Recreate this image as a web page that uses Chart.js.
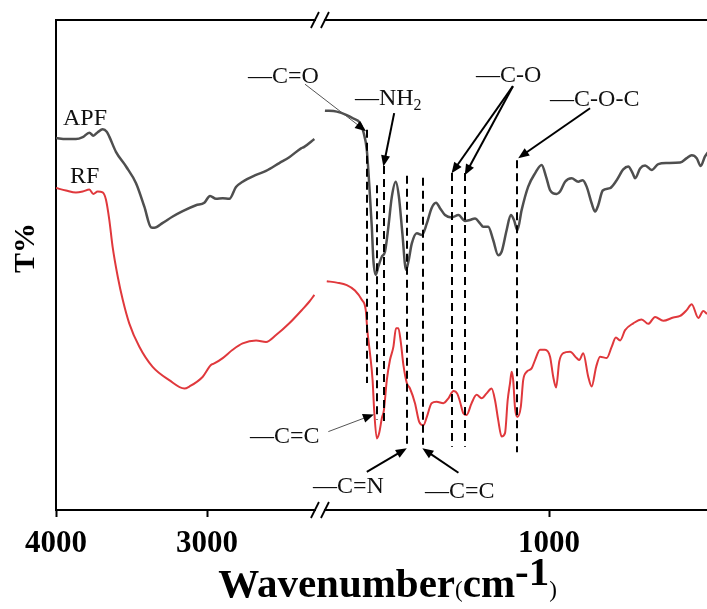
<!DOCTYPE html>
<html><head><meta charset="utf-8">
<script src="https://cdn.jsdelivr.net/npm/chart.js@4/dist/chart.umd.min.js"></script>
<style>html,body{margin:0;padding:0;background:#fff}canvas{display:block}</style>
</head><body>
<canvas id="c" width="707" height="609"></canvas>
<script>
// ---- data (wavenumber in cm-1, transmittance in arbitrary % units) ----
const tickWavenumbers = [4000, 3000, 1000];
const tickLabels = ['4000', '3000', '1000'];

const apfLeftWn = [4000,3934,3868,3823,3779,3753,3724,3691,3664,3647,3603,3536,3470,3415,3371,3349,3293,3227,3161,3073,3018,2980,2940,2896,2852,2808,2764,2675,2609,2521,2455,2377,2356,2289];
const apfLeftT  = [75.9,75.7,75.7,76.1,77.0,76.4,77.1,77.7,77.2,76.2,73.1,70.1,66.7,61.9,57.7,57.6,58.6,59.9,61.0,62.2,62.7,64.1,63.5,63.6,63.5,65.9,67.0,68.4,69.2,70.8,72.0,73.8,74.1,75.7];

const apfRightWn = [1851,1806,1768,1743,1718,1705,1692,1683,1673,1667,1658,1648,1635,1623,1610,1597,1582,1570,1557,1543,1534,1521,1502,1483,1464,1446,1429,1414,1395,1370,1344,1319,1300,1281,1262,1250,1231,1212,1193,1180,1161,1145,1133,1120,1104,1079,1053,1028,1011,996,971,958,939,914,889,872,857,838,825,813,796,768,743,718,699,682,673,654,635,610,585,553,502,477,458,439,424,408,395];
const apfRightT  = [81.5,81.3,80.6,79.9,79.0,77.2,73.5,66.7,57.8,51.0,48.0,49.7,51.7,52.7,57.8,63.9,67.0,63.9,56.5,49.0,50.7,54.4,56.5,56.1,58.5,61.6,62.7,61.6,60.2,59.7,60.2,59.0,59.2,59.5,58.5,57.8,57.8,55.1,52.0,52.7,57.1,60.2,59.2,57.1,61.2,66.0,68.7,70.4,68.0,65.3,64.5,65.0,67.0,67.7,67.0,67.3,66.0,62.6,60.9,62.2,65.2,65.7,67.3,69.5,70.1,68.7,67.7,69.7,70.3,69.4,70.6,70.8,70.9,71.8,72.4,71.8,70.2,72.1,73.1];

const rfLeftWn = [4000,3934,3868,3823,3779,3753,3724,3691,3669,3647,3625,3591,3558,3515,3448,3360,3250,3150,3117,3028,2974,2952,2896,2830,2764,2675,2609,2543,2455,2366,2323,2289];
const rfLeftT  = [65.7,65.2,64.8,65.0,65.4,64.5,65.0,64.8,63.3,59.2,53.7,47.6,42.9,38.1,33.3,29.2,26.5,24.8,25.2,27.2,29.6,29.9,31.0,32.7,34.0,34.6,34.3,35.7,38.1,41.0,42.5,43.9];

const rfRightWn = [1844,1806,1768,1737,1711,1696,1690,1680,1670,1664,1654,1645,1635,1627,1616,1604,1591,1581,1572,1563,1553,1540,1528,1509,1493,1477,1464,1446,1427,1401,1382,1363,1348,1338,1325,1313,1294,1275,1256,1237,1218,1205,1193,1180,1167,1157,1148,1142,1136,1129,1120,1107,1098,1085,1066,1053,1034,1015,996,984,973,961,946,920,895,885,870,851,838,821,806,781,762,746,730,711,680,648,623,597,566,528,502,477,458,433,414,400];
const rfRightT  = [46.7,46.4,45.9,44.8,42.9,40.8,36.7,32.0,26.5,20.4,14.6,15.7,18.7,20.4,26.5,30.6,33.3,37.1,37.1,34.3,29.6,25.9,24.8,21.8,18.0,17.3,19.0,21.8,22.1,21.8,22.8,24.3,23.7,22.1,19.7,19.4,21.8,23.5,22.8,23.8,24.8,22.4,18.4,15.0,15.7,22.4,25.9,28.2,26.5,20.8,19.0,21.1,26.5,28.2,28.9,30.6,32.7,32.7,31.3,27.2,25.0,30.3,32.0,32.3,31.0,30.6,32.0,27.2,25.2,29.2,31.3,31.0,33.3,35.2,34.6,36.7,38.1,38.9,38.0,39.4,38.6,39.3,39.6,40.8,42.0,39.2,40.6,40.0];

// peak markers (wavenumber, top T, bottom T)
const peakWn   = [1690, 1655, 1625, 1540, 1480, 1370, 1320, 1120];
const peakTop  = [77.6, 66.3, 70.2, 68.2, 67.8, 68.8, 68.8, 71.4];
const peakBot  = [25.9, 18.4, 17.8, 13.3, 13.3, 12.9, 12.9, 11.8];

// ---- broken-axis mapping: wavenumber -> axis units ----
const AXIS_MAX = 651;
function toU(w) { return w >= 2000 ? (4000 - w) * 0.151 : 493 + (1000 - w) * 0.2633; }
const BREAK_WN = 2252;

function zip(wn, t) { const n = Math.min(wn.length, t.length); const a = []; for (let i = 0; i < n; i++) a.push({x: toU(wn[i]), y: t[i]}); return a; }

const SERIF = '"Liberation Serif", "Times New Roman", serif';
const GRAY = '#4f4f4f', RED = '#e0383c';

// annotation texts (anchor in data coords, left/baseline)
const labels = [
  {segs:[{t:'—C=O'}], w:2728, t:87.1},
  {segs:[{t:'—NH'},{t:'2', size:16, dy:5}], w:1737, t:82.7},
  {segs:[{t:'—C-O'}], w:1277, t:87.3},
  {segs:[{t:'—C-O-C'}], w:996, t:82.4},
  {segs:[{t:'—C=C'}], w:2715, t:13.7},
  {segs:[{t:'—C=N'}], w:2298, t:3.5},
  {segs:[{t:'—C=C'}], w:1471, t:2.4},
  {segs:[{t:'APF'}], w:3954, t:78.6},
  {segs:[{t:'RF'}], w:3907, t:66.7}
];
const arrows = [
  {from:[2351,86.9], to:[1695,77.3], thin:true},
  {from:[1588,81.0], to:[1629,70.1]},
  {from:[1137,86.5], to:[1370,68.7]},
  {from:[1137,86.5], to:[1320,68.3]},
  {from:[844,82.0],  to:[1117,71.8]},
  {from:[1838,16.0], to:[1665,19.5], thin:true},
  {from:[1692,7.8],  to:[1540,12.6]},
  {from:[1344,7.6],  to:[1481,12.6]}
];

function drawSegs(ctx, segs, x, y, baseSize) {
  for (const s of segs) {
    ctx.font = (s.bold ? 'bold ' : '') + (s.size || baseSize) + 'px ' + SERIF;
    ctx.fillText(s.t, x, y + (s.dy || 0));
    x += ctx.measureText(s.t).width;
  }
}
function segsWidth(ctx, segs, baseSize) {
  let w = 0;
  for (const s of segs) { ctx.font = (s.bold ? 'bold ' : '') + (s.size || baseSize) + 'px ' + SERIF; w += ctx.measureText(s.t).width; }
  return w;
}

const decor = {
  id: 'decor',
  beforeDraw(chart) {
    const ctx = chart.ctx; ctx.save(); ctx.fillStyle = '#fff'; ctx.fillRect(0, 0, chart.width, chart.height); ctx.restore();
  },
  afterDraw(chart) {
    const ctx = chart.ctx, xs = chart.scales.x, ys = chart.scales.y, a = chart.chartArea;
    const X = w => xs.getPixelForValue(toU(w)), Y = t => ys.getPixelForValue(t);
    ctx.save();
    // top frame
    ctx.strokeStyle = '#000'; ctx.lineWidth = 2;
    ctx.beginPath(); ctx.moveTo(a.left - 1, a.top); ctx.lineTo(a.right, a.top); ctx.stroke();
    // axis breaks
    const bx = X(BREAK_WN);
    for (const by of [a.top, a.bottom]) {
      ctx.fillStyle = '#fff'; ctx.fillRect(bx - 4, by - 2, 8, 4);
      ctx.strokeStyle = '#000'; ctx.lineWidth = 1.8;
      ctx.beginPath();
      ctx.moveTo(bx - 9, by + 8); ctx.lineTo(bx - 1, by - 8);
      ctx.moveTo(bx + 1, by + 8); ctx.lineTo(bx + 9, by - 8);
      ctx.stroke();
    }
    // dashed peak lines
    ctx.strokeStyle = '#000'; ctx.lineWidth = 2; ctx.setLineDash([8, 5]);
    for (let i = 0; i < peakWn.length; i++) {
      const x = Math.round(X(peakWn[i]));
      ctx.beginPath(); ctx.moveTo(x, Y(peakTop[i])); ctx.lineTo(x, Y(peakBot[i])); ctx.stroke();
    }
    ctx.setLineDash([]);
    // arrows
    for (const ar of arrows) {
      const x1 = X(ar.from[0]), y1 = Y(ar.from[1]), x2 = X(ar.to[0]), y2 = Y(ar.to[1]);
      const ang = Math.atan2(y2 - y1, x2 - x1), L = 11, H = 4.5;
      ctx.strokeStyle = ar.thin ? '#555' : '#000'; ctx.lineWidth = ar.thin ? 1 : 2;
      ctx.beginPath(); ctx.moveTo(x1, y1); ctx.lineTo(x2 - Math.cos(ang) * (L - 2), y2 - Math.sin(ang) * (L - 2)); ctx.stroke();
      ctx.fillStyle = '#000';
      ctx.beginPath();
      ctx.moveTo(x2, y2);
      ctx.lineTo(x2 - L * Math.cos(ang) + H * Math.sin(ang), y2 - L * Math.sin(ang) - H * Math.cos(ang));
      ctx.lineTo(x2 - L * Math.cos(ang) - H * Math.sin(ang), y2 - L * Math.sin(ang) + H * Math.cos(ang));
      ctx.closePath(); ctx.fill();
    }
    // labels
    ctx.fillStyle = '#111'; ctx.textBaseline = 'alphabetic'; ctx.textAlign = 'left';
    for (const lb of labels) drawSegs(ctx, lb.segs, X(lb.w), Y(lb.t), 24);
    // x title
    const tsegs = [
      {t:'Wavenumber', bold:true, size:41},
      {t:'(', size:23},
      {t:'cm', bold:true, size:41},
      {t:'-1', bold:true, size:41, dy:-12},
      {t:')', size:23}
    ];
    ctx.fillStyle = '#000';
    const tw = segsWidth(ctx, tsegs, 41);
    drawSegs(ctx, tsegs, (a.left + a.right) / 2 + 6 - tw / 2, a.bottom + 87, 41);
    // y title
    ctx.save();
    ctx.translate(a.left - 30, (a.top + a.bottom) / 2 - 17);
    ctx.rotate(-Math.PI / 2);
    ctx.textAlign = 'center'; ctx.textBaseline = 'middle';
    ctx.font = 'bold 30px ' + SERIF;
    ctx.fillText('T%', 0, 0);
    ctx.restore();
    ctx.restore();
  }
};

const lineStyle = (color, width) => ({borderColor: color, borderWidth: width, pointRadius: 0, fill: false, cubicInterpolationMode: 'monotone'});

new Chart(document.getElementById('c'), {
  type: 'line',
  data: {
    datasets: [
      Object.assign({label: 'APF', data: zip(apfLeftWn, apfLeftT)}, lineStyle(GRAY, 2.5)),
      Object.assign({label: 'APF', data: zip(apfRightWn, apfRightT)}, lineStyle(GRAY, 2.5)),
      Object.assign({label: 'RF', data: zip(rfLeftWn, rfLeftT)}, lineStyle(RED, 2)),
      Object.assign({label: 'RF', data: zip(rfRightWn, rfRightT)}, lineStyle(RED, 2))
    ]
  },
  options: {
    responsive: false, animation: false, devicePixelRatio: 1,
    layout: {padding: {top: 20, left: 0, right: 0, bottom: 0}},
    plugins: {legend: {display: false}, tooltip: {enabled: false}},
    scales: {
      x: {
        type: 'linear', min: 0, max: AXIS_MAX,
        afterBuildTicks: s => { s.ticks = tickWavenumbers.map(w => ({value: toU(w)})); },
        afterFit: s => { s.height = 99; },
        ticks: {
          autoSkip: false, maxRotation: 0, padding: 8, color: '#000',
          font: {family: SERIF, size: 31, weight: 'bold'},
          callback: (v, i) => tickLabels[i]
        },
        grid: {drawOnChartArea: false, drawTicks: true, tickLength: 7, tickWidth: 2, tickColor: '#000'},
        border: {display: true, color: '#000', width: 2}
      },
      y: {
        type: 'linear', min: 0, max: 100,
        afterFit: s => { s.width = 56; },
        ticks: {display: false},
        grid: {drawOnChartArea: false, drawTicks: false},
        border: {display: true, color: '#000', width: 2}
      }
    }
  },
  plugins: [decor]
});
</script>
</body></html>
